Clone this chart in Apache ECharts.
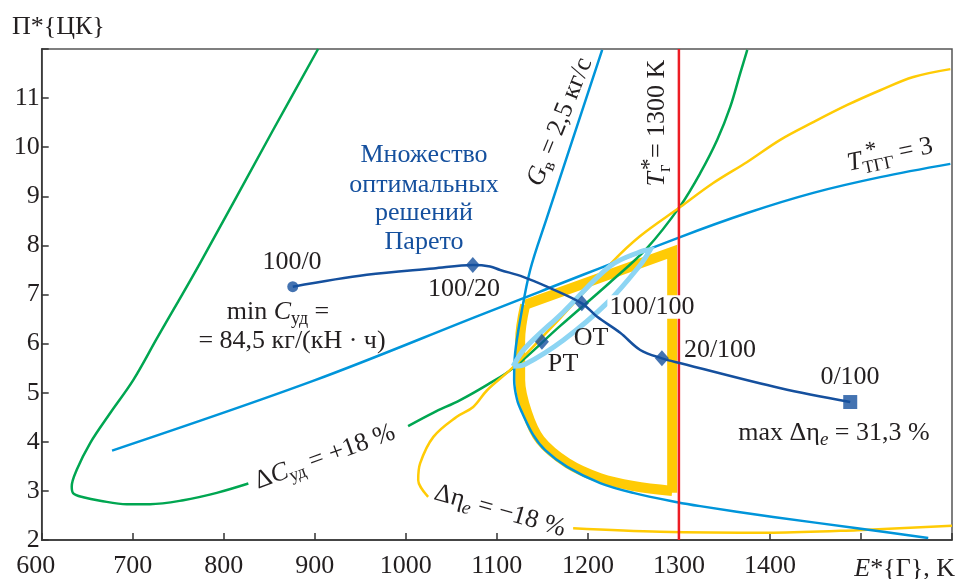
<!DOCTYPE html>
<html><head><meta charset="utf-8">
<script src="https://cdn.jsdelivr.net/npm/echarts@6/dist/echarts.min.js"></script>
<style>html,body{margin:0;padding:0;background:#fff}#c{width:958px;height:579px}</style>
</head><body><div id="c"></div>
<script>
// ---- tick labels ----
const xTickLabels = [600,700,800,900,1000,1100,1200,1300,1400];
const yTickLabels = [2,3,4,5,6,7,8,9,10,11];

// ---- curves [E*, П*] ----
const dCudUpper = [[903.6,12.0],[854.2,10.35],[774,7.64],[726.7,6.11],[700.7,5.26],[675.1,4.58],[653.1,3.97],[638.5,3.43],[633.0,3.09],[634.7,2.95],[645.7,2.87],[664.1,2.80],[693.4,2.73],[719.0,2.73],[755.6,2.81],[792.3,2.96],[827.0,3.15]];
const dCudLower = [[1002.5,4.32],[1030,4.59],[1059.7,4.85],[1089.3,5.16],[1117.9,5.50],[1169.6,6.36],[1224.5,7.25],[1265.2,7.95],[1301.4,8.80],[1323.4,9.47],[1342.1,10.15],[1356.4,10.82],[1367.4,11.51],[1375.1,11.98]];
const dEtaUpper = [[1024.5,2.88],[1013.6,3.22],[1015.7,3.56],[1030.3,4.10],[1056,4.51],[1074,4.71],[1089.3,5.05],[1117.9,5.52],[1169.6,6.52],[1226.7,7.66],[1257.5,8.19],[1301.4,8.78],[1337.7,9.27],[1375,9.70],[1411.3,10.15],[1447.6,10.51],[1485,10.86],[1521.2,11.16],[1557.5,11.43],[1598.2,11.59]];
const dEtaLower = [[1183.8,2.24],[1279.4,2.17],[1403.6,2.15],[1495.9,2.20],[1600,2.29]];
const gAir = [[1215.7,11.98],[1154.2,8.52],[1136.6,7.50],[1125.6,6.48],[1120.1,5.81],[1119.0,5.26],[1122.3,4.85],[1127.8,4.59],[1139.9,4.14],[1153.1,3.83],[1177.3,3.49],[1213.5,3.16],[1249.8,2.96],[1298.1,2.77],[1323.4,2.69],[1403.6,2.47],[1495.9,2.24],[1573.9,2.04]];
const tTgg = [[677.3,3.82],[898.1,5.24],[1081.6,6.58],[1147.6,7.06],[1301.4,8.17],[1375,8.66],[1447.6,9.07],[1521.2,9.39],[1598.2,9.66]];
const tGas = [[1300,2],[1300,12]];
const feasibleCurve = [[1131.1,6.79],[1125.6,6.07],[1125.6,5.26],[1133.3,4.59],[1147.6,4.04],[1177.3,3.57],[1213.5,3.26],[1249.8,3.10],[1292.6,3.00]];
const feasibleEdges = [[1292.6,2.96],[1292.6,7.87],[1131.1,6.79]];
const optimumLoop = [[1117.9,5.54],[1131.1,5.91],[1172.9,6.64],[1224.5,7.58],[1257.5,7.87],[1268.5,7.91],[1257.5,7.60],[1221.2,6.83],[1172.9,6.07],[1131.1,5.58],[1117.9,5.54]];
const pareto = [[875.8,7.16],[957.1,7.40],[1030.3,7.53],[1073.6,7.60],[1092.6,7.57],[1103.6,7.50],[1128.9,7.36],[1155,7.16],[1193.4,6.82],[1209.9,6.55],[1235.5,6.22],[1257.5,5.87],[1281.3,5.70],[1301.9,5.60],[1411.8,5.09],[1488.2,4.81]];
const paretoCircle = [[875.8,7.16]];
const paretoDiamonds = [[1073.6,7.60],[1193.4,6.82],[1281.3,5.70],[1149.5,6.04]];
const paretoSquare = [[1488.2,4.81]];

const FONT = '"Liberation Serif","Times New Roman",serif';
const FS = 26;
const TXT = '#231f20';
const C_GREEN = '#00a651', C_BLUE = '#0095da', C_YEL = '#ffcb05', C_RED = '#ed1c24', C_DARK = '#15509e', C_PALE = '#8dd5f3';

const chart = echarts.init(document.getElementById('c'), null, {renderer:'canvas'});
function ln(data, color, width, z, smooth) {
  return {type:'line', data, symbol:'none', smooth: smooth === false ? false : 0.35, lineStyle:{color, width, cap:'butt', join:'miter'}, z, silent:true, animation:false};
}
const cv = document.createElement('canvas').getContext('2d');
function measure(t, s, it){ cv.font = (it?'italic ':'') + s + 'px ' + FONT; return cv.measureText(t).width; }
function label(cx, cy, rotDeg, parts, color, anchor, bg) {
  let w = 0; const items = [];
  parts.forEach(p => { const s = p.s || FS; items.push({x: w + (p.dx||0), p, s}); if (p.adv !== false) w += measure(p.t, s, p.it); });
  const off = anchor === 'left' ? 0 : (anchor === 'right' ? -w : -w/2);
  const children = items.map(({x,p,s}) => ({type:'text', x: x + off, y: p.dy||0, silent:true, z:101,
      style:{text:p.t, font:(p.it?'italic ':'') + s + 'px ' + FONT, fill: color||TXT, align:'left', verticalAlign:'middle', textAlign:'left', textVerticalAlign:'middle'}}));
  if (bg) children.unshift({type:'rect', silent:true, z:100, shape:{x:off-2, y:-FS*0.45, width:w+4, height:FS*0.9}, style:{fill:'#fff'}});
  return {type:'group', x:cx, y:cy, rotation: rotDeg*Math.PI/180, silent:true, z:100, children};
}
const P = (t, o) => Object.assign({t}, o||{});

const graphics = [
  label(12, 27, 0, [P('П*{ЦК}')], TXT, 'left'),
  label(955, 569, 0, [P('E',{it:true}), P('*{Г}, K')], TXT, 'right'),
  label(292, 262, 0, [P('100/0')]),
  label(464, 289, 0, [P('100/20')]),
  label(278, 312, 0, [P('min '), P('C',{it:true}), P('уд',{s:18,dy:7}), P(' =')]),
  label(292, 341, 0, [P('= 84,5 кг/(кН · ч)')]),
  label(424, 155, 0, [P('Множество')], C_DARK),
  label(424, 185, 0, [P('оптимальных')], C_DARK),
  label(424, 213, 0, [P('решений')], C_DARK),
  label(424, 242, 0, [P('Парето')], C_DARK),
  label(652, 307, 0, [P('100/100')], TXT, 'center', true),
  label(591, 338, 0, [P('ОТ')]),
  label(563, 364, 0, [P('РТ')]),
  label(720, 350, 0, [P('20/100')]),
  label(850, 377, 0, [P('0/100')]),
  label(834, 433, 0, [P('max Δη'), P('e',{it:true,s:19,dy:7}), P(' = 31,3 %')]),
  label(325, 457, 20, [P('Δ'), P('C',{it:true}), P('уд',{s:18,dy:7}), P(' = +18 %')]),
  label(500, 511, -16, [P('Δη'), P('e',{it:true,s:19,dy:7}), P(' = −18 %')]),
  label(560, 122, 68, [P('G',{it:true}), P('в',{s:18,dy:7}), P(' = 2,5 кг/с')]),
  label(657, 123, 90, [P('T',{it:true}), P('*',{s:23,dy:-7,dx:2,adv:false}), P('г',{s:18,dy:8}), P(' = 1300 K')]),
  label(890, 155, 12, [P('T',{it:true}), P('*',{s:23,dy:-8,dx:6,adv:false}), P('ТГГ',{s:18,dy:8}), P(' = 3')])
];

chart.setOption({
  animation:false,
  backgroundColor:'#fff',
  grid:{left:41.7, right:6, top:49, bottom:39, show:true, borderColor:'#555', borderWidth:1.5, backgroundColor:'transparent'},
  xAxis:{type:'value', min:600, max:1600, interval:100,
    axisLine:{show:true, lineStyle:{color:'#333', width:1.5}},
    axisTick:{show:true, inside:true, length:7, lineStyle:{color:'#333', width:1.5}},
    axisLabel:{margin:13, fontSize:FS, fontFamily:FONT, color:TXT,
      formatter:v => v === xTickLabels[0] ? '{f|' + v + '}' : (xTickLabels.includes(v) ? String(v) : ''),
      rich:{f:{fontSize:FS, fontFamily:FONT, color:TXT, padding:[0,12,0,0]}}},
    splitLine:{show:false}},
  yAxis:{type:'value', min:2, max:12, interval:1,
    axisLine:{show:true, lineStyle:{color:'#333', width:1.5}},
    axisTick:{show:true, inside:true, length:7, lineStyle:{color:'#333', width:1.5}},
    axisLabel:{margin:2, fontSize:FS, fontFamily:FONT, color:TXT, formatter:v => yTickLabels.includes(v) ? String(v) : ''},
    splitLine:{show:false}},
  series:[
    ln(feasibleCurve, C_YEL, 10, 1),
    ln(feasibleEdges, C_YEL, 10, 1, false),
    ln(dCudUpper, C_GREEN, 2.5, 2),
    ln(dCudLower, C_GREEN, 2.5, 2),
    ln(dEtaUpper, C_YEL, 2.5, 2),
    ln(dEtaLower, C_YEL, 2.5, 2),
    ln(gAir, C_BLUE, 2.5, 3),
    ln(tTgg, C_BLUE, 2.5, 3),
    ln(tGas, C_RED, 2.5, 3, false),
    ln(optimumLoop, C_PALE, 5, 4, 0.35),
    ln(pareto, C_DARK, 2.5, 5),
    {type:'scatter', data:paretoCircle, symbol:'circle', symbolSize:11, itemStyle:{color:C_DARK}, z:6, silent:true},
    {type:'scatter', data:paretoDiamonds, symbol:'diamond', symbolSize:[14,16], itemStyle:{color:C_DARK}, z:6, silent:true},
    {type:'scatter', data:paretoSquare, symbol:'rect', symbolSize:14, itemStyle:{color:C_DARK}, z:6, silent:true}
  ],
  graphic: graphics
});
</script></body></html>
